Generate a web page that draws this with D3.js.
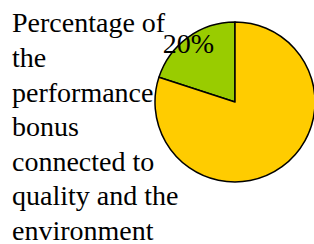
<!DOCTYPE html>
<html>
<head>
<meta charset="UTF-8">
<script src="https://cdnjs.cloudflare.com/ajax/libs/d3/7.8.5/d3.min.js"></script>
<style>
    body { margin: 0; background: #fff; }
    svg { display: block; }
</style>
</head>
<body>
<script>
    // Data
    const categories = ["Quality and environment", "Other"];
    const values = [20, 80];
    const colors = ["#99cc00", "#ffcc00"];
    const labels = ["20%", ""];
    const titleLines = ["Percentage of", "the", "performance", "bonus", "connected to", "quality and the", "environment"];

    const width = 314, height = 244;
    const cx = 235, cy = 102, radius = 80;

    const svg = d3.select("body")
        .append("svg")
        .attr("width", width)
        .attr("height", height);

    // Title text on the left
    svg.append("g")
        .selectAll("text")
        .data(titleLines)
        .enter().append("text")
        .attr("x", 12)
        .attr("y", (d, i) => 32.3 + i * 34.6)
        .attr("font-family", "Liberation Serif")
        .attr("font-size", 28)
        .text(d => d);

    // Pie, green slice sits counter-clockwise from 12 o'clock
    const total = d3.sum(values);
    const pie = d3.pie()
        .sort(null)
        .startAngle(-2 * Math.PI * values[0] / total)
        .endAngle(2 * Math.PI - 2 * Math.PI * values[0] / total);

    const arc = d3.arc().innerRadius(0).outerRadius(radius);
    const labelArc = d3.arc().innerRadius(76).outerRadius(76);

    const g = svg.append("g")
        .attr("transform", `translate(${cx},${cy})`);

    const arcs = pie(values);

    g.selectAll("path")
        .data(arcs)
        .enter().append("path")
        .attr("d", arc)
        .attr("fill", (d, i) => colors[i])
        .attr("stroke", "#000")
        .attr("stroke-width", 1.5)
        .attr("stroke-linejoin", "round");

    g.selectAll(".lbl")
        .data(arcs)
        .enter().append("text")
        .attr("class", "lbl")
        .attr("transform", d => `translate(${labelArc.centroid(d)})`)
        .attr("text-anchor", "middle")
        .attr("dx", -2)
        .attr("dy", "0.46em")
        .attr("font-family", "Liberation Serif")
        .attr("font-size", 28)
        .text((d, i) => labels[i]);
</script>
</body>
</html>
